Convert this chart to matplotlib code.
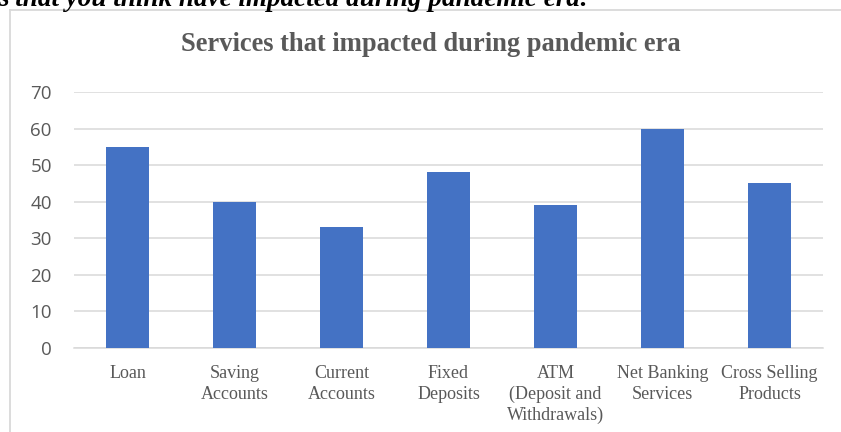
import matplotlib
matplotlib.use('Agg')
import matplotlib.pyplot as plt
from matplotlib.lines import Line2D

categories = ['Loan', 'Saving\nAccounts', 'Current\nAccounts', 'Fixed\nDeposits',
              'ATM\n(Deposit and\nWithdrawals)', 'Net Banking\nServices', 'Cross Selling\nProducts']
values = [55, 40, 33, 48, 39, 60, 45]
y_ticks = [0, 10, 20, 30, 40, 50, 60, 70]

W, H = 841, 432
BAR, GRID, TEXT = '#4472C4', '#D9D9D9', '#595959'
SERIF = 'Liberation Serif'

fig = plt.figure(figsize=(W / 100, H / 100), dpi=100)
fig.patch.set_facecolor('white')

# plot area in pixel terms
left, right, top, bottom = 74, 823, 92, 348
ax = fig.add_axes([left / W, 1 - bottom / H, (right - left) / W, (bottom - top) / H])

x = range(len(categories))
ax.bar(x, values, width=0.4, color=BAR, zorder=3)
ax.set_xlim(-0.5, len(categories) - 0.5)
ax.set_ylim(0, 70)
ax.set_yticks(y_ticks)
ax.set_yticklabels([str(t) for t in y_ticks], fontfamily='Open Sans', fontsize=13.5, color=TEXT)
ax.set_xticks(list(x))
ax.set_xticklabels(categories, fontfamily=SERIF, fontsize=13, color=TEXT, linespacing=1.28)
ax.tick_params(axis='both', length=0)
ax.tick_params(axis='x', pad=12.5)
ax.tick_params(axis='y', pad=16)
ax.grid(axis='y', color=GRID, linewidth=1.1, zorder=0)
for s in ['left', 'right', 'top']:
    ax.spines[s].set_visible(False)
ax.spines['bottom'].set_color(GRID)
ax.spines['bottom'].set_linewidth(1.1)

# chart frame (runs off the right and bottom edges)
fx, fy = 9.5 / W, 1 - 9.5 / H
fig.add_artist(Line2D([fx, fx], [-0.05, fy], color=GRID, linewidth=1.3, transform=fig.transFigure))
fig.add_artist(Line2D([fx, 1.05], [fy, fy], color=GRID, linewidth=1.3, transform=fig.transFigure))

fig.text(431 / W, 1 - 51 / H, 'Services that impacted during pandemic era', ha='center', va='baseline',
         fontfamily=SERIF, fontweight='bold', fontsize=19.1, color=TEXT)

# question line above the chart, only its lower part shows
fig.text(-2 / W, 1 - 5.5 / H, 's that you think have impacted during pandemic era:', ha='left', va='baseline',
         fontfamily=SERIF, fontweight='bold', fontstyle='italic', fontsize=19.5, color='black')

fig.savefig('out.png', dpi=100, facecolor='white')
